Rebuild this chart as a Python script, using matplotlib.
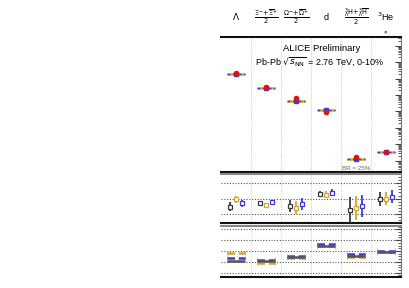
import numpy as np
import matplotlib
matplotlib.use("Agg")
import matplotlib.pyplot as plt
from matplotlib.ticker import LogLocator, MultipleLocator, NullFormatter

plt.rcParams['font.family'] = ['Liberation Sans', 'DejaVu Sans']
plt.rcParams['mathtext.fontset'] = 'dejavusans'

# species (column headers)
species = [r"$\Lambda$",
           r"$\frac{\Xi^{-}\!+\!\overline{\Xi}^{+}}{2}$",
           r"$\frac{\Omega^{-}\!+\!\overline{\Omega}^{+}}{2}$",
           "d",
           r"$\frac{{}^{3}_{\Lambda}\mathrm{H}\!+\!{}^{3}_{\Lambda}\overline{\mathrm{H}}}{2}$",
           r"$^{3}$He"]

# top panel: yields (log scale)
data_yield = [21.3, 3.25, 0.64, 0.093, 1.68e-4, 3.16e-4]
model_yield = [18.5, 2.7, 0.456, 0.118, 1.22e-4, 3.4e-4]

# middle panel: data / model for three fits
ratio_black = [0.74, 0.87, 0.763, 1.153, 0.633, 0.981]
ratio_black_err = [0.146, 0.05, 0.206, 0.107, 0.42, 0.233]
ratio_yellow = [0.981, 0.805, 0.708, 1.13, 0.688, 1.0]
ratio_yellow_err = [0.107, 0.04, 0.217, 0.107, 0.39, 0.217]
ratio_blue = [0.851, 0.883, 0.818, 1.195, 0.763, 1.065]
ratio_blue_err = [0.119, 0.05, 0.19, 0.107, 0.36, 0.204]

# bottom panel: deviation
dev_black = [-0.95, -0.97, -0.55, 0.48, -0.45, -0.06]
dev_yellow = [-0.18, -1.09, -0.67, 0.42, -0.52, -0.13]
dev_blue = [-0.64, -0.79, -0.45, 0.66, -0.31, 0.03]

c_black = "#3a3a3a"
c_yellow = "#d4a530"
c_blue = "#3b3bdd"

W, H = 409, 288
fig = plt.figure(figsize=(W / 100, H / 100), dpi=100)


def px_axes(x0, y0, x1, y1):
    return fig.add_axes([x0 / W, 1 - y1 / H, (x1 - x0) / W, (y1 - y0) / H])


ax_top = px_axes(221, 37, 401, 171.5)
ax_mid = px_axes(221, 174, 401, 223.3)
ax_bot = px_axes(221, 226, 401, 277)

xc = np.arange(len(species)) + 0.5
half = 0.31

for ax in (ax_top, ax_mid, ax_bot):
    ax.set_xlim(0, 6)
    for s in range(1, 6):
        ax.axvline(s, color="#bbbbbb", lw=0.7, ls=(0, (0.6, 1.2)), zorder=0)
    ax.spines['left'].set_visible(False)
    ax.spines['top'].set_color("#888888")
    ax.spines['top'].set_linewidth(1.5)
    ax.spines['bottom'].set_color("#111111")
    ax.spines['bottom'].set_linewidth(1.5)
    ax.spines['right'].set_color("#777777")
    ax.spines['right'].set_linewidth(0.8)
    ax.tick_params(axis='y', which='both', direction='in', left=False, right=True,
                   labelleft=False, labelright=False, color="#444444")
    ax.tick_params(axis='y', which='major', length=4, width=0.8)
    ax.tick_params(axis='y', which='minor', length=2, width=0.6)
    ax.tick_params(axis='x', which='both', bottom=False, labelbottom=False)

ax_top.spines['top'].set_color("#111111")

# --- top panel
ax_top.set_yscale('log')
ax_top.set_ylim(10 ** -4.66, 10 ** 3.54)
ax_top.yaxis.set_major_locator(LogLocator(base=10, numticks=20))
ax_top.yaxis.set_minor_locator(LogLocator(base=10, subs=np.arange(2, 10), numticks=20))
ax_top.yaxis.set_minor_formatter(NullFormatter())
for i, x in enumerate(xc):
    ax_top.hlines(model_yield[i], x - half, x + half, color=c_yellow, lw=1.8, zorder=2)
    ax_top.hlines(model_yield[i], x - half, x + half, color=c_blue, lw=1.0,
                  ls=(0, (2, 2)), zorder=3)
ax_top.plot(xc, model_yield, 's', color=c_blue, ms=2.2, zorder=4)
ax_top.plot(xc, data_yield, 'o', color="#e01010", ms=3.0, zorder=5)

ax_top.text(0.56, 0.915, "ALICE Preliminary", transform=ax_top.transAxes,
            ha='center', va='center', fontsize=6.8)
ax_top.text(0.55, 0.82, r"Pb-Pb $\sqrt{s_{\mathrm{NN}}}$ = 2.76 TeV, 0-10%",
            transform=ax_top.transAxes, ha='center', va='center', fontsize=6.5)
ax_top.text(4.5, 10 ** -4.47, "BR = 25%", ha='center', va='center',
            fontsize=4.5, color="#666666")

# column headers
for i, lab in enumerate(species):
    fig.text((221 + 30 * xc[i]) / W, 1 - 17 / H, lab, ha='center', va='center',
             fontsize=6.5 if i in (0, 3, 5) else 6.8)
fig.text(386 / W, 1 - 32 / H, r"$\diamond$", ha='center', va='center', fontsize=4)

# --- middle panel
ax_mid.set_ylim(0.2, 1.8)
ax_mid.yaxis.set_major_locator(MultipleLocator(0.5))
ax_mid.yaxis.set_minor_locator(MultipleLocator(0.1))
for g in (0.5, 1.0, 1.5):
    ax_mid.axhline(g, color="#555555", lw=0.8, ls=(0, (1, 1.5)), zorder=0)
offs = [-0.21, 0.0, 0.19]
for vals, errs, col, off in ((ratio_black, ratio_black_err, c_black, offs[0]),
                            (ratio_yellow, ratio_yellow_err, c_yellow, offs[1]),
                            (ratio_blue, ratio_blue_err, c_blue, offs[2])):
    ax_mid.errorbar(xc + off, vals, yerr=errs, fmt='s', mfc='white', mec=col,
                    mew=0.9, ms=3.2, ecolor=col, elinewidth=1.3, capsize=0, zorder=3)

# --- bottom panel
ax_bot.set_ylim(-2.4, 2.3)
ax_bot.yaxis.set_major_locator(MultipleLocator(1))
ax_bot.yaxis.set_minor_locator(MultipleLocator(0.25))
for g in (-2, -1, 0, 1, 2):
    ax_bot.axhline(g, color="#555555", lw=0.8, ls=(0, (1, 1.5)), zorder=0)
for i, x in enumerate(xc):
    ax_bot.hlines(dev_yellow[i], x - half, x + half, color=c_yellow, lw=1.8,
                  ls=(0, (3, 1.5)), zorder=2)
    ax_bot.hlines(dev_blue[i], x - half, x + half, color=c_blue, lw=1.8,
                  ls=(0, (3, 1.5)), zorder=3)
    ax_bot.hlines(dev_black[i], x - half, x + half, color="#555555", lw=1.8, zorder=4)
    for v in (dev_yellow[i], dev_blue[i]):
        ax_bot.vlines([x - half, x + half], v - 0.2, v + 0.2, color="#b8b8f0", lw=0.8, zorder=1)

fig.savefig("out.png", dpi=100)
